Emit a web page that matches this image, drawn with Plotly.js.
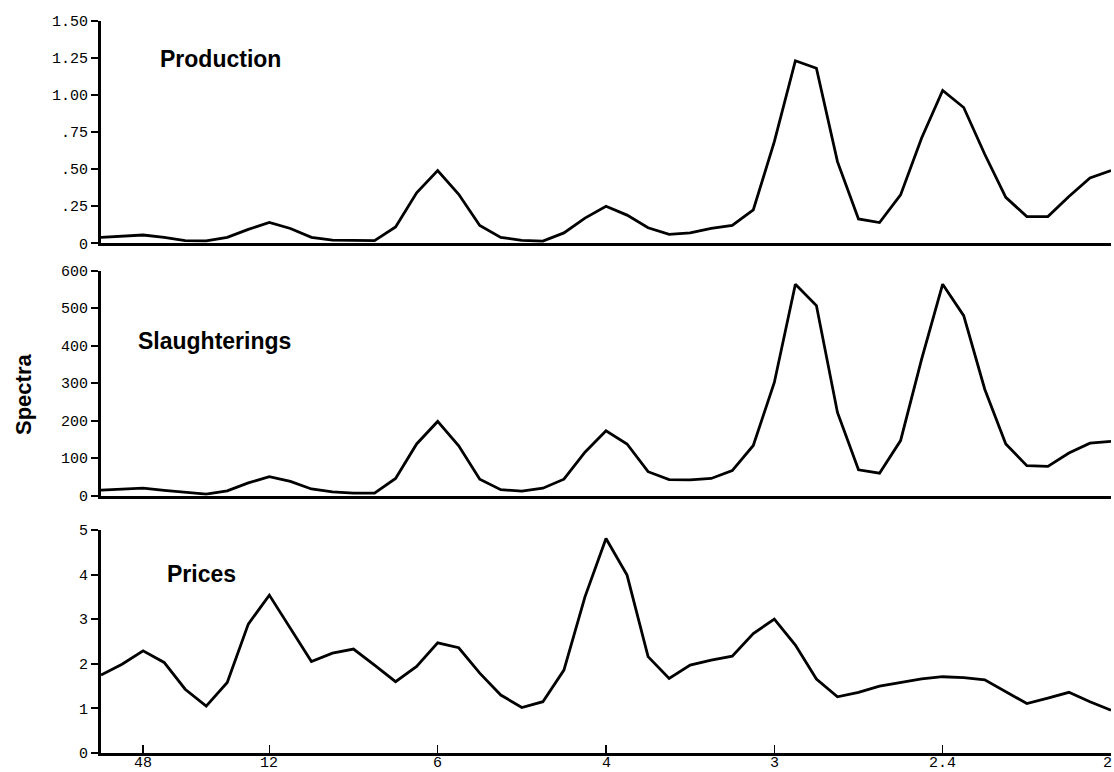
<!DOCTYPE html>
<html>
<head>
<meta charset="utf-8">
<script src="https://cdn.plot.ly/plotly-3.0.1.min.js"></script>
<style>html,body{margin:0;padding:0;background:#fff;}#chart{width:1114px;height:772px;}</style>
</head>
<body>
<div id="chart"></div>
<script>
// harmonic number k (frequency = k/96 cycles per month)
const harmonic = [0,1,2,3,4,5,6,7,8,9,10,11,12,13,14,15,16,17,18,19,20,21,22,23,24,25,26,27,28,29,30,31,32,33,34,35,36,37,38,39,40,41,42,43,44,45,46,47,48];

const production = [0.04,0.05,0.056,0.04,0.018,0.016,0.04,0.094,0.14,0.10,
  0.04,0.022,0.02,0.018,0.11,0.34,0.49,0.33,0.12,0.04,
  0.02,0.015,0.07,0.17,0.25,0.19,0.105,0.06,0.07,0.10,
  0.12,0.225,0.685,1.23,1.18,0.55,0.164,0.14,0.326,0.71,
  1.03,0.915,0.60,0.31,0.18,0.18,0.315,0.44,0.49];

const slaughterings = [15,18,20,14,8,4,13,34,51,38,
  18,10,7,7,46,138,198,133,44,16,
  12,20,44,116,173,138,64,43,42,46,
  67,134,302,564,507,222,69,60,147,364,
  564,480,284,138,80,78,114,140,145];

const prices = [1.75,1.99,2.29,2.03,1.43,1.05,1.58,2.89,3.54,2.78,
  2.05,2.24,2.33,1.97,1.6,1.94,2.47,2.36,1.79,1.3,
  1.02,1.15,1.86,3.5,4.81,3.99,2.16,1.67,1.97,2.08,
  2.17,2.68,3.0,2.42,1.66,1.26,1.36,1.5,1.58,1.66,
  1.71,1.69,1.64,1.37,1.11,1.23,1.36,1.15,0.96];

const periodTickVals = [2,8,16,24,32,40,48];
const periodTickText = ['48','12','6','4','3','2.4','2'];

const prodTickVals = [0,0.25,0.5,0.75,1,1.25,1.5];
const prodTickText = ['0','.25','.50','.75','1.00','1.25','1.50'];
const slTickVals = [0,100,200,300,400,500,600];
const prTickVals = [0,1,2,3,4,5];

const panelLabels = ['Production','Slaughterings','Prices'];
const yTitle = 'Spectra';

const tickFont = {family:'Liberation Mono, DejaVu Sans Mono, monospace', size:15, color:'#000'};
const lineStyle = {color:'#000', width:2.8};

const traces = [
  {x:harmonic, y:production, xaxis:'x', yaxis:'y', mode:'lines', line:lineStyle, hoverinfo:'skip'},
  {x:harmonic, y:slaughterings, xaxis:'x2', yaxis:'y2', mode:'lines', line:lineStyle, hoverinfo:'skip'},
  {x:harmonic, y:prices, xaxis:'x3', yaxis:'y3', mode:'lines', line:lineStyle, hoverinfo:'skip'}
];

const xDom = [101/1114, 1111/1114];
function yd(top, bottom){ return [1 - bottom/772, 1 - top/772]; }

function xa(anchor, ticked){
  const a = {domain:xDom, range:[0,48], anchor:anchor, showline:true, linewidth:3, linecolor:'#000',
    showgrid:false, zeroline:false, fixedrange:true, automargin:false, showticklabels:false};
  if(ticked){
    Object.assign(a, {ticks:'inside', ticklen:8, tickwidth:1.5, tickcolor:'#000',
      tickmode:'array', tickvals:periodTickVals});
  } else {
    a.ticks = '';
  }
  return a;
}
function ya(anchor, dom, range, vals, text){
  const a = {domain:dom, range:range, anchor:anchor, showline:true, linewidth:3, linecolor:'#000',
    showgrid:false, zeroline:false, fixedrange:true, automargin:false,
    ticks:'outside', ticklen:7, tickwidth:2, tickcolor:'#000',
    tickmode:'array', tickvals:vals, tickfont:tickFont};
  if(text) a.ticktext = text;
  return a;
}

const ann = (txt, x, y) => ({text:'<b>'+txt+'</b>', xref:'paper', yref:'paper', x:x, y:y,
  xanchor:'left', yanchor:'middle', showarrow:false,
  font:{family:'Liberation Sans, Arial, sans-serif', size:23, color:'#000'}});

const annotations = [
  ann(panelLabels[0], 158/1114, 1-59/772),
  ann(panelLabels[1], 136/1114, 1-341/772),
  ann(panelLabels[2], 165/1114, 1-574/772),
  {text:'<b>'+yTitle+'</b>', xref:'paper', yref:'paper', x:23/1114, y:1-395/772,
   xanchor:'center', yanchor:'middle', textangle:-90, showarrow:false,
   font:{family:'Liberation Sans, Arial, sans-serif', size:22, color:'#000'}}
];
// period labels under the bottom axis, placed on the x3 data scale
periodTickVals.forEach((v, i) => {
  const last = i === periodTickVals.length - 1;
  annotations.push({text:periodTickText[i], xref:'x3', yref:'paper', x:v, y:1-763/772,
    xanchor:last ? 'right' : 'center', yanchor:'middle', showarrow:false, font:tickFont,
    borderpad:0, xshift: last ? 2 : 0});
});

const layout = {
  width:1114, height:772,
  margin:{l:0, r:0, t:0, b:0},
  paper_bgcolor:'#fff', plot_bgcolor:'#fff',
  showlegend:false,
  xaxis: xa('y', false),
  xaxis2: xa('y2', false),
  xaxis3: xa('y3', true),
  yaxis: ya('x', yd(20.7, 243.3), [0,1.5], prodTickVals, prodTickText),
  yaxis2: ya('x2', yd(270.7, 495.7), [0,600], slTickVals),
  yaxis3: ya('x3', yd(530, 753), [0,5], prTickVals),
  annotations: annotations
};

Plotly.newPlot('chart', traces, layout, {staticPlot:true, displayModeBar:false});
</script>
</body>
</html>
